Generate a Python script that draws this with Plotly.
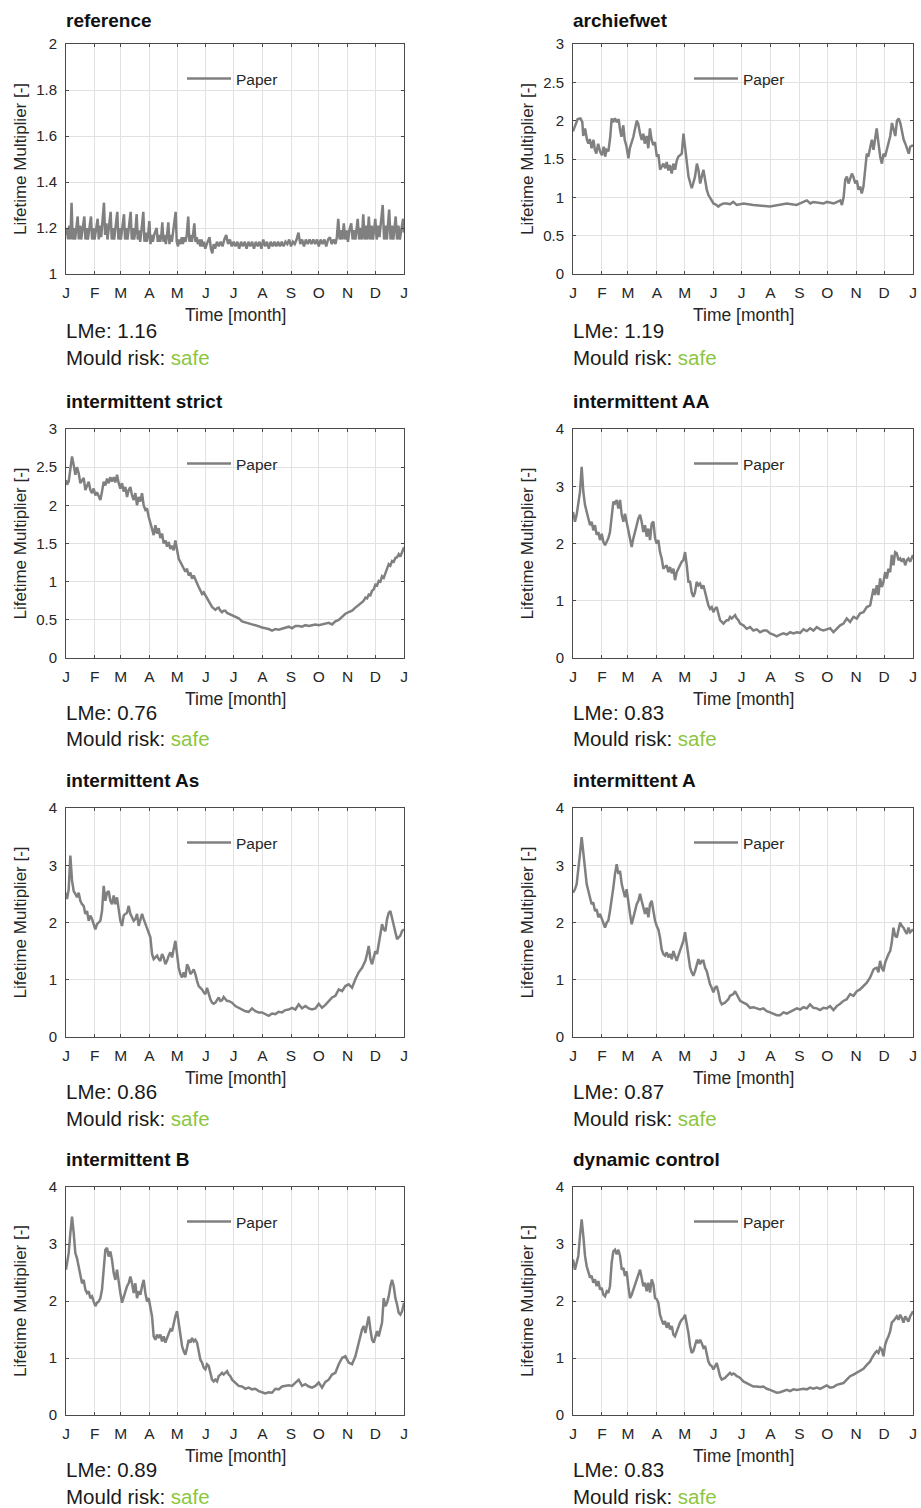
import plotly.graph_objects as go

# ---------------------------------------------------------------- data
month_ticks = [0, 31, 59, 90, 120, 151, 181, 212, 243, 273, 304, 334, 365]
month_labels = ["J", "F", "M", "A", "M", "J", "J", "A", "S", "O", "N", "D", "J"]

# reference scenario (day of year, lifetime multiplier)
days_reference = [
    0, 1, 2.2, 3.5, 4.8, 6, 7.2, 8.6, 9.8, 11.2,
    12.6, 13.8, 15.2, 16.4, 17.8, 19.8, 21, 22.4, 23.6, 25,
    27, 28.2, 29.6, 30.8, 32.2, 34.2, 35.4, 36.8, 38, 39.4,
    41, 42.2, 43.6, 44.8, 46.2, 48.2, 49.4, 50.8, 52, 53.4,
    55.4, 56.6, 58, 59.2, 60.6, 62.6, 63.8, 65.2, 66.4, 67.8,
    69.8, 71, 72.4, 73.6, 75, 76.3, 77.5, 78.9, 80.1, 81.5,
    83.5, 84.7, 86.1, 87.3, 88.7, 90, 91.2, 92.6, 93.8, 95.2,
    97.9, 99.1, 100.5, 101.7, 103, 104, 105.2, 106.6, 107.8, 109.2,
    110.5, 111.7, 113.1, 114.3, 115.7, 118.4, 119.6, 121, 122.2, 123.6,
    125, 126.2, 127.6, 129, 130.4, 132, 133.2, 134.6, 135.8, 137.2,
    138.6, 139.8, 141.2, 142.4, 143.8, 145, 146.4, 147.6, 149, 150.4,
    152, 153.5, 155, 156.5, 158, 159.5, 161, 163, 165, 167,
    169, 171, 173, 175, 177, 179, 181, 183, 185, 187,
    189, 191, 193, 195, 197, 199, 201, 203, 205, 207,
    209, 211, 213, 215, 217, 219, 221, 223, 225, 227,
    229, 231, 233, 235, 237, 239, 241, 243, 245, 247,
    249, 251, 253, 255, 257, 259, 261, 263, 265, 267,
    269, 271, 273, 275, 277, 279, 281, 283, 285, 287,
    289, 291, 292.5, 294, 295.5, 297, 298.5, 300, 301.5, 303,
    304.5, 306, 308, 309.5, 311, 312.5, 315, 316.5, 318, 319.5,
    321, 322.5, 324, 325.5, 327, 328.5, 330, 331.5, 334, 335.5,
    337, 338.5, 340, 342, 343.5, 345, 346.5, 349, 350.5, 352,
    353.5, 356, 357.5, 359, 360.5, 362, 364, 365,
]
lm_reference = [
    1.17, 1.20, 1.15, 1.21, 1.15, 1.31, 1.15, 1.20, 1.15, 1.20,
    1.25, 1.15, 1.21, 1.15, 1.20, 1.25, 1.15, 1.20, 1.15, 1.20,
    1.25, 1.15, 1.20, 1.15, 1.19, 1.24, 1.15, 1.21, 1.16, 1.22,
    1.31, 1.17, 1.22, 1.15, 1.21, 1.27, 1.15, 1.20, 1.15, 1.20,
    1.27, 1.15, 1.20, 1.15, 1.20, 1.26, 1.15, 1.20, 1.15, 1.20,
    1.27, 1.15, 1.20, 1.15, 1.19, 1.26, 1.15, 1.19, 1.14, 1.19,
    1.27, 1.14, 1.18, 1.14, 1.17, 1.23, 1.13, 1.17, 1.14, 1.17,
    1.20, 1.14, 1.17, 1.14, 1.17, 1.225, 1.14, 1.17, 1.13, 1.17,
    1.225, 1.13, 1.17, 1.14, 1.18, 1.27, 1.14, 1.12, 1.15, 1.13,
    1.16, 1.13, 1.16, 1.14, 1.17, 1.25, 1.14, 1.17, 1.14, 1.17,
    1.22, 1.14, 1.16, 1.13, 1.15, 1.12, 1.15, 1.12, 1.14, 1.11,
    1.13, 1.15, 1.16, 1.11, 1.09, 1.13, 1.11, 1.14, 1.12, 1.14,
    1.12, 1.15, 1.17, 1.13, 1.15, 1.12, 1.14, 1.12, 1.14, 1.11,
    1.14, 1.12, 1.14, 1.11, 1.14, 1.12, 1.14, 1.11, 1.14, 1.12,
    1.14, 1.11, 1.15, 1.12, 1.14, 1.11, 1.14, 1.12, 1.14, 1.12,
    1.14, 1.12, 1.14, 1.12, 1.14, 1.13, 1.15, 1.12, 1.14, 1.13,
    1.15, 1.18, 1.13, 1.15, 1.12, 1.15, 1.13, 1.15, 1.13, 1.15,
    1.13, 1.15, 1.12, 1.15, 1.13, 1.15, 1.12, 1.15, 1.16, 1.13,
    1.15, 1.13, 1.16, 1.24, 1.15, 1.19, 1.15, 1.22, 1.15, 1.19,
    1.14, 1.19, 1.22, 1.15, 1.19, 1.15, 1.24, 1.15, 1.20, 1.15,
    1.26, 1.15, 1.21, 1.15, 1.25, 1.15, 1.21, 1.15, 1.24, 1.15,
    1.21, 1.16, 1.21, 1.30, 1.15, 1.21, 1.15, 1.28, 1.15, 1.21,
    1.15, 1.25, 1.15, 1.21, 1.15, 1.20, 1.24, 1.18,
]

# archiefwet scenario
days_archiefwet = [
    0, 3, 5, 8, 10, 11, 13, 15, 16.5, 18,
    20, 22, 23.5, 25, 27, 29, 31, 33, 34.5, 36,
    38, 40, 41.5, 43, 45, 47, 49, 50.5, 52, 54,
    55.5, 57.5, 59.5, 61, 64.8, 68.4, 70, 72, 73.8, 75.5,
    77, 79, 80.8, 82.6, 84.4, 86.2, 88, 90, 91.7, 93.5,
    95, 97, 99, 100.6, 102.4, 104, 106, 107.8, 109.6, 111.4,
    113, 116.8, 118.6, 120.4, 122, 124, 126, 127.5, 129, 131,
    133, 134.7, 136.5, 138.2, 140, 141.8, 143.6, 145.4, 147, 149,
    150.8, 154, 156, 158, 161.5, 165, 168.6, 172, 175.8, 183,
    193.6, 211.5, 218.7, 229.5, 240, 251, 254.8, 258, 269, 272.7,
    280, 283, 287, 288.7, 290.5, 292.3, 294, 295.8, 297.6, 299.4,
    301, 303, 304.7, 306.5, 308.3, 310, 311.8, 313.6, 315.4, 317,
    319, 320.8, 322.6, 324.4, 326, 328, 329.8, 331.6, 333.4, 335,
    337, 338.8, 340.6, 342.4, 344, 346, 347.8, 349.6, 351.4, 353,
    355, 356.8, 358.6, 360.4, 362, 365,
]
lm_archiefwet = [
    1.86, 1.95, 2.02, 2.03, 1.98, 1.80, 1.90, 1.75, 1.70, 1.76,
    1.64, 1.75, 1.62, 1.57, 1.70, 1.60, 1.55, 1.66, 1.53, 1.62,
    1.60, 1.79, 2.03, 1.98, 2.03, 1.98, 2.02, 1.88, 1.79, 1.94,
    1.75, 1.66, 1.51, 1.64, 1.79, 2.00, 1.96, 1.83, 1.75, 1.83,
    1.70, 1.80, 1.64, 1.90, 1.75, 1.68, 1.72, 1.53, 1.56, 1.36,
    1.40, 1.44, 1.38, 1.46, 1.35, 1.42, 1.31, 1.44, 1.36, 1.48,
    1.53, 1.57, 1.83, 1.66, 1.49, 1.27, 1.18, 1.12, 1.18, 1.27,
    1.44, 1.36, 1.18, 1.27, 1.36, 1.23, 1.10, 1.03, 1.00, 0.96,
    0.92, 0.90, 0.88, 0.90, 0.92, 0.92, 0.91, 0.94, 0.90, 0.92,
    0.90, 0.88, 0.90, 0.92, 0.90, 0.96, 0.92, 0.94, 0.92, 0.94,
    0.92, 0.94, 0.96, 0.90, 1.00, 1.23, 1.27, 1.18, 1.25, 1.31,
    1.27, 1.18, 1.22, 1.10, 1.14, 1.05, 1.14, 1.40, 1.57, 1.53,
    1.66, 1.75, 1.62, 1.78, 1.90, 1.70, 1.53, 1.44, 1.57, 1.53,
    1.62, 1.70, 1.80, 1.97, 1.88, 1.80, 2.00, 2.03, 1.97, 1.88,
    1.75, 1.70, 1.62, 1.57, 1.66, 1.68,
]

# sampling days shared by the intermittent strict / As / B series
days_left = [
    0, 1.1, 2.9, 4.7, 6.5, 8.3, 10.1, 11.9, 13.7, 15.5,
    17.3, 19.1, 20.9, 22.7, 24.5, 26.3, 28.1, 29.9, 31.7, 33.5,
    35.3, 37.1, 38.9, 40.7, 42.5, 44.3, 46.1, 47.9, 49.7, 51.5,
    53.3, 55.1, 56.9, 58.7, 60.5, 62.3, 64.1, 65.9, 67.7, 69.5,
    71.3, 73.1, 74.9, 76.7, 78.5, 80.3, 82.1, 83.9, 85.7, 87.5,
    89.3, 91.1, 92.9, 94.7, 96.5, 98.3, 100.1, 101.9, 103.7, 105.5,
    107.3, 109.1, 110.9, 112.7, 114.5, 116.3, 118.1, 119.9, 121.7, 123.5,
    125.3, 127.1, 128.9, 130.7, 132.5, 134.3, 136.1, 137.9, 139.7, 141.5,
    143.3, 145.1, 146.9, 148.7, 150.5, 152.3, 154.1, 155.9, 157.7, 159.5,
    161.3, 163.1, 164.9, 166.7, 168.5, 170.3, 172.1, 173.9, 175.7, 177.5,
    179.3, 182.9, 186.5, 190.1, 193.7, 197.3, 200.9, 204.5, 208.1, 211.7,
    215.3, 218.9, 222.5, 226.1, 229.7, 233.3, 236.9, 240.5, 244.1, 247.7,
    251.3, 254.9, 258.5, 262.1, 265.7, 269.3, 272.9, 276.5, 280.1, 283.7,
    287.3, 290.9, 294.5, 298.1, 301.7, 305.3, 308.9, 312.5, 316.1, 319.7,
    321.5, 323.3, 325.1, 326.9, 328.7, 330.5, 332.3, 334.1, 335.9, 337.7,
    339.5, 341.3, 343.1, 344.9, 346.7, 348.5, 350.3, 352.1, 353.9, 355.7,
    357.5, 359.3, 361.1, 362.9, 365,
]
lm_strict = [
    2.33, 2.27, 2.31, 2.48, 2.64, 2.53, 2.40, 2.50, 2.42, 2.29,
    2.33, 2.36, 2.20, 2.25, 2.31, 2.20, 2.16, 2.22, 2.13, 2.17,
    2.11, 2.07, 2.18, 2.31, 2.26, 2.35, 2.29, 2.37, 2.31, 2.37,
    2.30, 2.40, 2.29, 2.22, 2.29, 2.18, 2.24, 2.11, 2.20, 2.24,
    2.13, 2.07, 2.16, 2.00, 2.11, 2.05, 2.16, 2.00, 1.94, 1.96,
    1.85, 1.78, 1.70, 1.61, 1.74, 1.63, 1.70, 1.57, 1.63, 1.50,
    1.54, 1.46, 1.52, 1.43, 1.47, 1.41, 1.54, 1.43, 1.30, 1.26,
    1.22, 1.18, 1.13, 1.17, 1.08, 1.12, 1.04, 1.08, 1.04, 0.98,
    0.93, 0.89, 0.84, 0.86, 0.82, 0.80, 0.76, 0.71, 0.67, 0.65,
    0.63, 0.65, 0.66, 0.62, 0.60, 0.62, 0.62, 0.59, 0.58, 0.57,
    0.56, 0.54, 0.52, 0.48, 0.47, 0.45, 0.44, 0.43, 0.41, 0.40,
    0.39, 0.38, 0.36, 0.38, 0.37, 0.38, 0.39, 0.41, 0.39, 0.42,
    0.42, 0.41, 0.43, 0.42, 0.43, 0.44, 0.43, 0.44, 0.44, 0.46,
    0.44, 0.48, 0.50, 0.54, 0.58, 0.60, 0.62, 0.66, 0.69, 0.73,
    0.75, 0.79, 0.78, 0.83, 0.82, 0.88, 0.90, 0.96, 0.95, 1.01,
    1.00, 1.07, 1.05, 1.12, 1.16, 1.23, 1.21, 1.27, 1.26, 1.31,
    1.32, 1.36, 1.33, 1.38, 1.45,
]
lm_as = [
    2.52, 2.41, 2.58, 3.17, 2.73, 2.55, 2.50, 2.44, 2.52, 2.38,
    2.32, 2.29, 2.15, 2.20, 2.03, 2.12, 2.06, 1.97, 1.88, 1.97,
    2.00, 2.03, 2.20, 2.64, 2.38, 2.52, 2.55, 2.38, 2.32, 2.47,
    2.32, 2.44, 2.23, 2.03, 1.94, 2.12, 2.15, 2.17, 2.29, 2.15,
    2.09, 2.03, 2.06, 2.15, 1.94, 2.06, 2.15, 2.06, 1.97, 1.91,
    1.83, 1.74, 1.45, 1.36, 1.39, 1.42, 1.36, 1.33, 1.45, 1.39,
    1.27, 1.33, 1.42, 1.48, 1.39, 1.56, 1.68, 1.45, 1.21, 1.10,
    1.04, 1.13, 1.04, 1.27, 1.21, 1.10, 1.13, 1.18, 1.10, 0.98,
    0.89, 0.86, 0.83, 0.78, 0.75, 0.86, 0.75, 0.66, 0.60, 0.58,
    0.60, 0.66, 0.69, 0.63, 0.64, 0.70, 0.66, 0.63, 0.63, 0.62,
    0.60, 0.54, 0.51, 0.48, 0.45, 0.44, 0.50, 0.45, 0.43, 0.43,
    0.40, 0.37, 0.41, 0.40, 0.44, 0.43, 0.47, 0.48, 0.51, 0.48,
    0.57, 0.50, 0.54, 0.50, 0.48, 0.50, 0.58, 0.51, 0.56, 0.63,
    0.69, 0.72, 0.83, 0.80, 0.89, 0.92, 0.86, 1.01, 1.13, 1.21,
    1.27, 1.33, 1.45, 1.59, 1.36, 1.27, 1.39, 1.50, 1.45, 1.62,
    1.74, 1.97, 1.88, 1.85, 2.06, 2.17, 2.20, 2.06, 1.94, 1.83,
    1.71, 1.74, 1.77, 1.85, 1.88,
]
lm_b = [
    2.55, 2.69, 2.84, 3.19, 3.48, 3.19, 2.84, 2.75, 2.61, 2.43,
    2.31, 2.37, 2.20, 2.14, 2.17, 2.05, 2.08, 1.99, 1.91, 1.97,
    1.99, 2.05, 2.20, 2.55, 2.90, 2.93, 2.78, 2.87, 2.72, 2.49,
    2.37, 2.55, 2.31, 2.14, 1.97, 2.08, 2.14, 2.26, 2.31, 2.43,
    2.31, 2.14, 2.31, 2.05, 2.17, 2.11, 2.26, 2.37, 2.14, 1.99,
    2.05, 1.91, 1.73, 1.38, 1.32, 1.41, 1.35, 1.41, 1.29, 1.38,
    1.27, 1.35, 1.44, 1.50, 1.47, 1.62, 1.73, 1.82, 1.62, 1.35,
    1.21, 1.12, 1.06, 1.18, 1.32, 1.27, 1.35, 1.29, 1.32, 1.27,
    1.09, 0.97, 0.92, 0.83, 0.80, 0.89, 0.86, 0.71, 0.62, 0.59,
    0.62, 0.59, 0.68, 0.71, 0.74, 0.71, 0.74, 0.77, 0.71, 0.68,
    0.62, 0.57, 0.51, 0.50, 0.46, 0.48, 0.45, 0.46, 0.42, 0.40,
    0.38, 0.40, 0.39, 0.46, 0.45, 0.50, 0.51, 0.52, 0.51, 0.57,
    0.62, 0.51, 0.54, 0.50, 0.48, 0.51, 0.57, 0.48, 0.58, 0.62,
    0.71, 0.74, 0.89, 1.00, 1.03, 0.92, 0.89, 1.03, 1.27, 1.50,
    1.56, 1.44, 1.59, 1.73, 1.50, 1.32, 1.27, 1.38, 1.47, 1.38,
    1.50, 1.62, 2.05, 1.91, 1.97, 2.08, 2.26, 2.37, 2.26, 2.05,
    1.94, 1.79, 1.76, 1.82, 1.97,
]

# sampling days shared by the intermittent AA / A / dynamic control series
days_right = [
    0, 2.1, 3.9, 5.7, 7.5, 9.3, 11.1, 12.9, 14.7, 16.5,
    18.3, 20.0, 21.8, 23.6, 25.4, 27.2, 29.0, 30.8, 32.6, 34.4,
    36.2, 37.9, 39.7, 41.5, 43.3, 45.1, 46.9, 48.7, 50.5, 52.3,
    54.1, 55.8, 57.6, 59.4, 61.2, 63.0, 64.8, 66.6, 68.4, 70.2,
    72.0, 73.7, 75.5, 77.3, 79.1, 80.9, 82.7, 84.5, 86.3, 88.1,
    89.9, 91.6, 93.4, 95.2, 97.0, 98.8, 100.6, 102.4, 104.2, 106.0,
    107.8, 109.5, 111.3, 113.1, 114.9, 116.7, 118.5, 120.3, 122.1, 123.9,
    125.7, 127.4, 129.2, 131.0, 132.8, 134.6, 136.4, 138.2, 140.0, 141.8,
    143.6, 145.3, 147.1, 148.9, 150.7, 152.5, 154.3, 156.1, 157.9, 159.7,
    161.5, 163.2, 165.0, 166.8, 168.6, 170.4, 172.2, 174.0, 175.8, 177.6,
    179.4, 182.9, 186.5, 190.1, 193.7, 197.3, 200.8, 204.4, 208.0, 211.6,
    215.2, 218.7, 222.3, 225.9, 229.5, 233.1, 236.6, 240.2, 243.8, 247.4,
    251.0, 254.5, 258.1, 261.7, 265.3, 268.9, 272.4, 276.0, 279.6, 283.2,
    286.8, 290.3, 293.9, 297.5, 301.1, 304.7, 308.2, 311.8, 315.4, 319.0,
    320.8, 322.6, 324.3, 326.1, 327.9, 329.7, 331.5, 333.3, 335.1, 336.9,
    338.7, 340.5, 342.2, 344.0, 345.8, 347.6, 349.4, 351.2, 353.0, 354.8,
    356.6, 358.4, 360.1, 361.9, 365,
]
lm_aa = [
    2.55, 2.38, 2.50, 2.73, 2.90, 3.34, 2.90, 2.67, 2.55, 2.44,
    2.32, 2.38, 2.23, 2.32, 2.15, 2.20, 2.06, 2.17, 2.03, 1.97,
    2.03, 2.09, 2.20, 2.50, 2.73, 2.70, 2.76, 2.61, 2.76, 2.50,
    2.38, 2.52, 2.38, 2.20, 2.06, 1.94, 2.09, 2.23, 2.32, 2.44,
    2.50, 2.38, 2.20, 2.32, 2.12, 2.26, 2.06, 2.35, 2.38, 2.09,
    2.00, 2.06, 1.85, 1.74, 1.56, 1.59, 1.62, 1.50, 1.59, 1.48,
    1.56, 1.36, 1.50, 1.56, 1.62, 1.68, 1.71, 1.85, 1.62, 1.33,
    1.33, 1.15, 1.07, 1.15, 1.33, 1.27, 1.30, 1.21, 1.27, 1.15,
    1.01, 0.92, 0.86, 0.89, 0.80, 0.86, 0.89, 0.78, 0.66, 0.63,
    0.60, 0.63, 0.66, 0.66, 0.72, 0.69, 0.72, 0.75, 0.69, 0.66,
    0.60, 0.57, 0.51, 0.54, 0.48, 0.50, 0.45, 0.48, 0.48, 0.43,
    0.41, 0.38, 0.41, 0.43, 0.41, 0.45, 0.43, 0.45, 0.44, 0.50,
    0.47, 0.52, 0.48, 0.54, 0.50, 0.48, 0.50, 0.52, 0.45, 0.51,
    0.57, 0.60, 0.69, 0.63, 0.72, 0.69, 0.78, 0.80, 0.89, 0.92,
    1.10, 1.21, 1.10, 1.27, 1.10, 1.39, 1.24, 1.33, 1.50, 1.39,
    1.56, 1.50, 1.80, 1.62, 1.85, 1.83, 1.71, 1.74, 1.68, 1.74,
    1.62, 1.71, 1.74, 1.68, 1.80,
]
lm_a = [
    2.52, 2.58, 2.67, 2.90, 3.20, 3.49, 3.22, 2.90, 2.67, 2.55,
    2.41, 2.32, 2.35, 2.20, 2.23, 2.09, 2.15, 2.06, 1.97, 1.91,
    2.00, 2.03, 2.20, 2.38, 2.61, 2.85, 3.02, 2.85, 2.90, 2.67,
    2.55, 2.44, 2.58, 2.32, 2.15, 1.97, 2.09, 2.20, 2.32, 2.38,
    2.50, 2.38, 2.26, 2.15, 2.26, 2.09, 2.32, 2.38, 2.20, 2.03,
    1.94, 1.88, 1.74, 1.53, 1.45, 1.42, 1.48, 1.39, 1.45, 1.36,
    1.50, 1.42, 1.33, 1.42, 1.50, 1.59, 1.68, 1.83, 1.65, 1.45,
    1.21, 1.13, 1.07, 1.15, 1.27, 1.36, 1.27, 1.33, 1.33, 1.21,
    1.15, 1.01, 0.92, 0.86, 0.78, 0.86, 0.89, 0.78, 0.63, 0.57,
    0.58, 0.60, 0.63, 0.66, 0.72, 0.73, 0.75, 0.80, 0.75, 0.69,
    0.63, 0.60, 0.57, 0.51, 0.52, 0.50, 0.48, 0.50, 0.45, 0.43,
    0.41, 0.38, 0.38, 0.43, 0.41, 0.44, 0.47, 0.50, 0.48, 0.52,
    0.50, 0.57, 0.51, 0.50, 0.47, 0.51, 0.50, 0.54, 0.47, 0.54,
    0.58, 0.63, 0.66, 0.75, 0.72, 0.80, 0.83, 0.89, 0.95, 1.04,
    1.13, 1.18, 1.20, 1.21, 1.13, 1.33, 1.21, 1.15, 1.30, 1.39,
    1.45, 1.50, 1.65, 1.91, 1.77, 1.74, 1.85, 2.00, 1.94, 1.91,
    1.85, 1.80, 1.91, 1.83, 1.88,
]
lm_dynamic = [
    2.73, 2.55, 2.67, 2.79, 3.14, 3.43, 3.14, 2.79, 2.61, 2.52,
    2.41, 2.44, 2.32, 2.38, 2.26, 2.35, 2.20, 2.23, 2.11, 2.08,
    2.17, 2.14, 2.26, 2.67, 2.87, 2.90, 2.82, 2.90, 2.79, 2.55,
    2.58, 2.44, 2.52, 2.26, 2.05, 2.11, 2.20, 2.29, 2.38, 2.44,
    2.55, 2.41, 2.26, 2.32, 2.17, 2.32, 2.15, 2.38, 2.29, 2.05,
    2.03, 1.97, 1.76, 1.67, 1.59, 1.65, 1.53, 1.62, 1.50, 1.56,
    1.41, 1.38, 1.47, 1.56, 1.62, 1.67, 1.70, 1.76, 1.62, 1.44,
    1.21, 1.09, 1.12, 1.21, 1.32, 1.26, 1.32, 1.26, 1.18, 1.21,
    1.03, 0.94, 0.88, 0.86, 0.80, 0.86, 0.91, 0.80, 0.68, 0.62,
    0.63, 0.65, 0.68, 0.71, 0.74, 0.71, 0.73, 0.71, 0.68, 0.67,
    0.65, 0.59, 0.56, 0.53, 0.50, 0.50, 0.49, 0.50, 0.46, 0.44,
    0.42, 0.39, 0.40, 0.42, 0.44, 0.42, 0.45, 0.44, 0.45, 0.46,
    0.45, 0.48, 0.46, 0.48, 0.46, 0.49, 0.52, 0.48, 0.49, 0.53,
    0.55, 0.56, 0.62, 0.68, 0.71, 0.74, 0.77, 0.81, 0.88, 0.94,
    1.00, 1.06, 1.09, 1.12, 1.09, 1.18, 1.15, 1.03, 1.23, 1.32,
    1.38, 1.47, 1.62, 1.65, 1.70, 1.73, 1.67, 1.76, 1.70, 1.62,
    1.73, 1.67, 1.64, 1.73, 1.82,
]

titles = ["reference", "archiefwet", "intermittent strict", "intermittent AA",
          "intermittent As", "intermittent A", "intermittent B", "dynamic control"]
lme_values = ["1.16", "1.19", "0.76", "0.83", "0.86", "0.87", "0.89", "0.83"]
mould_risk = ["safe"] * 8

series = [
    (days_reference, lm_reference),
    (days_archiefwet, lm_archiefwet),
    (days_left, lm_strict),
    (days_right, lm_aa),
    (days_left, lm_as),
    (days_right, lm_a),
    (days_left, lm_b),
    (days_right, lm_dynamic),
]
y_ticks = [
    [1, 1.2, 1.4, 1.6, 1.8, 2],
    [0, 0.5, 1, 1.5, 2, 2.5, 3],
    [0, 0.5, 1, 1.5, 2, 2.5, 3],
    [0, 1, 2, 3, 4],
    [0, 1, 2, 3, 4],
    [0, 1, 2, 3, 4],
    [0, 1, 2, 3, 4],
    [0, 1, 2, 3, 4],
]

# ---------------------------------------------------------------- layout
W, H = 921, 1508
COL_X = [(66, 404), (573, 913)]                       # plot left/right, px
ROW_Y = [(44, 274), (429, 658), (808, 1037), (1187, 1415)]  # plot top/bottom, px

LINE_COLOR = "#808080"
TEXT_COLOR = "#262626"
GRID_COLOR = "#e2e2e2"
AXIS_COLOR = "#4a4a4a"
SAFE_COLOR = "#8cc63f"
FONT = "Liberation Sans, Arial, Helvetica, sans-serif"


def px_x(x):
    return x / W


def px_y(y):
    return 1 - y / H


def fmt_tick(v):
    return ("%g" % v)


fig = go.Figure()
layout = {}
annotations = []

for i, (title, (xs, ys), yt, lme, risk) in enumerate(
        zip(titles, series, y_ticks, lme_values, mould_risk), start=1):
    col = (i - 1) % 2
    row = (i - 1) // 2
    x0, x1 = COL_X[col]
    y0, y1 = ROW_Y[row]
    sfx = "" if i == 1 else str(i)
    xa, ya, lg = "x" + sfx, "y" + sfx, "legend" + sfx

    fig.add_trace(go.Scatter(
        x=xs, y=ys, mode="lines", name="Paper",
        line=dict(color=LINE_COLOR, width=2.5),
        xaxis=xa, yaxis=ya, legend=lg, showlegend=True,
    ))

    layout["xaxis" + sfx] = dict(
        domain=[px_x(x0), px_x(x1)], anchor=ya, range=[0, 365],
        tickmode="array", tickvals=month_ticks, ticktext=month_labels,
        showgrid=True, gridcolor=GRID_COLOR, gridwidth=1, zeroline=False,
        showline=True, linecolor=AXIS_COLOR, linewidth=1, mirror="ticks",
        ticks="inside", ticklen=3, tickcolor=AXIS_COLOR,
        tickfont=dict(family=FONT, size=15.5, color=TEXT_COLOR),
        ticklabelstandoff=4,
    )
    layout["yaxis" + sfx] = dict(
        domain=[px_y(y1), px_y(y0)], anchor=xa, range=[yt[0], yt[-1]],
        tickmode="array", tickvals=yt, ticktext=[fmt_tick(v) for v in yt],
        showgrid=True, gridcolor=GRID_COLOR, gridwidth=1, zeroline=False,
        showline=True, linecolor=AXIS_COLOR, linewidth=1, mirror="ticks",
        ticks="inside", ticklen=3, tickcolor=AXIS_COLOR,
        tickfont=dict(family=FONT, size=15, color=TEXT_COLOR),
        ticklabelstandoff=5,
    )
    layout[lg] = dict(
        x=px_x(x0 + 116), y=px_y(y0 + 35), xanchor="left", yanchor="middle",
        bgcolor="rgba(0,0,0,0)", borderwidth=0,
        font=dict(family=FONT, size=15.5, color=TEXT_COLOR),
        itemwidth=44,
    )

    title_y = y0 - (24 if row == 0 else 28)
    annotations.append(dict(
        text="<b>%s</b>" % title, x=px_x(x0 - 2), y=px_y(title_y),
        xref="paper", yref="paper", xanchor="left", yanchor="middle",
        showarrow=False, font=dict(family=FONT, size=19, color="#111111"),
    ))
    annotations.append(dict(
        text="Lifetime Multiplier [-]", x=px_x(x0 - 46), y=px_y((y0 + y1) / 2),
        xref="paper", yref="paper", xanchor="center", yanchor="middle",
        textangle=-90, showarrow=False,
        font=dict(family=FONT, size=17, color=TEXT_COLOR),
    ))
    annotations.append(dict(
        text="Time [month]", x=px_x((x0 + x1) / 2), y=px_y(y1 + 41),
        xref="paper", yref="paper", xanchor="center", yanchor="middle",
        showarrow=False, font=dict(family=FONT, size=17.5, color=TEXT_COLOR),
    ))
    off = 2 if row == 0 else 0
    annotations.append(dict(
        text="LMe: %s" % lme, x=px_x(x0 - 2), y=px_y(y1 + 54 + off),
        xref="paper", yref="paper", xanchor="left", yanchor="middle",
        showarrow=False, font=dict(family=FONT, size=20.5, color="#1a1a1a"),
    ))
    annotations.append(dict(
        text="Mould risk: <span style='color:%s'>%s</span>" % (SAFE_COLOR, risk),
        x=px_x(x0 - 2), y=px_y(y1 + 81 + off),
        xref="paper", yref="paper", xanchor="left", yanchor="middle",
        showarrow=False, font=dict(family=FONT, size=20.5, color="#1a1a1a"),
    ))

fig.update_layout(
    width=W, height=H, margin=dict(l=0, r=0, t=0, b=0),
    paper_bgcolor="white", plot_bgcolor="white",
    template="none", annotations=annotations, hovermode=False,
    **layout,
)

fig.write_html("out.html")
